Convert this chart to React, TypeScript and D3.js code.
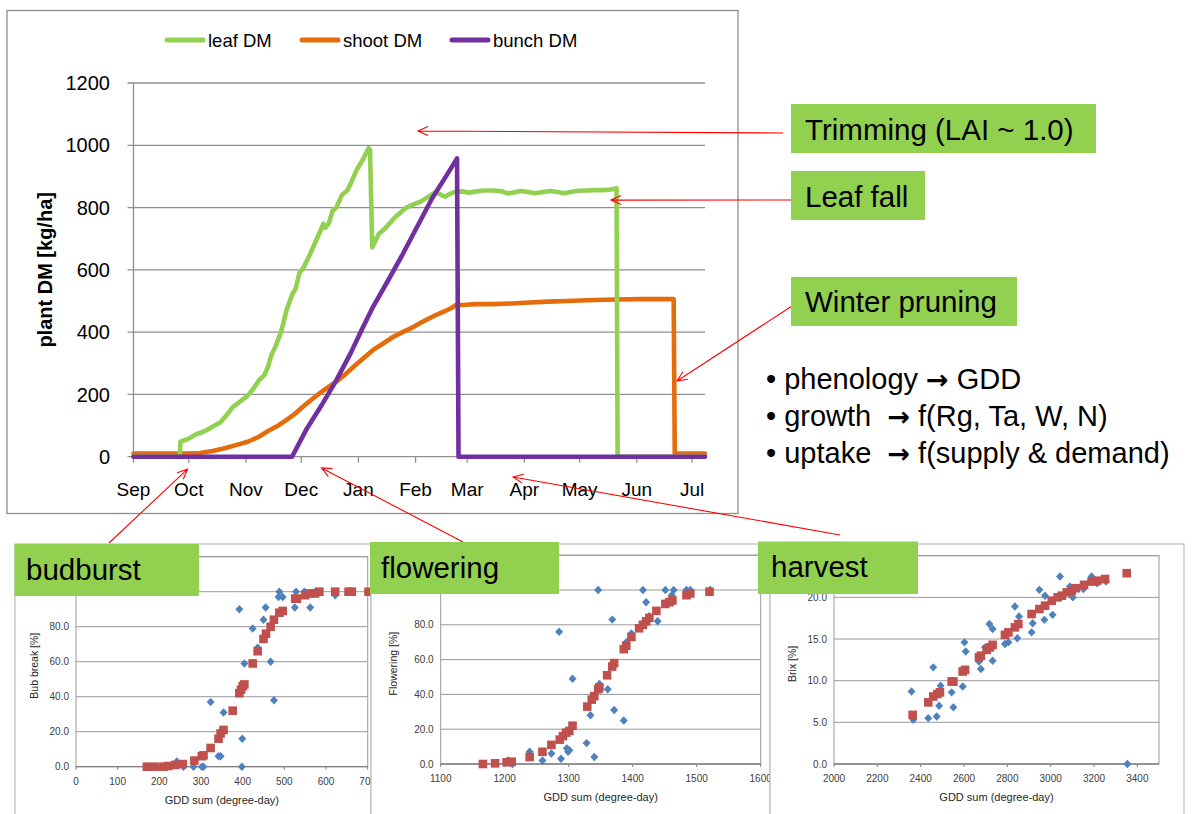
import React from "react";
import * as d3 from "d3";

// ---------- main panel: simulated dry matter (kg/ha) ----------
// x values are day offsets from 1 September 2000
const SEASON_START = Date.UTC(2000, 8, 1);
const SEASON_LAST_DAY = 310;
const MONTH_LABELS = ["Sep", "Oct", "Nov", "Dec", "Jan", "Feb", "Mar", "Apr", "May", "Jun", "Jul"];
const DM_TICKS = [0, 200, 400, 600, 800, 1000, 1200];

const leafDM: [number, number][] = [
  [0, 0], [25, 0], [25.5, 48], [30, 58], [34, 72], [38, 80], [41, 90], [44, 100], [47, 110],
  [50, 130], [54, 160], [58, 178], [62, 196], [65, 218], [68, 245], [71, 262], [73, 290],
  [75, 330], [77, 353], [80, 400], [83, 470], [86, 520], [88, 540], [90, 590], [92, 605],
  [95, 640], [98, 680], [101, 720], [103, 748], [104, 735], [106, 750], [108, 790], [110, 800],
  [113, 840], [116, 855], [118, 880], [121, 920], [124, 950], [127.5, 990], [128.3, 985],
  [129.5, 672], [131, 690], [133, 715], [136, 730], [139, 750], [142, 770], [145, 785],
  [148, 800], [152, 810], [156, 820], [160, 835], [164, 850], [167, 840], [169, 835],
  [171, 842], [174, 850], [178, 852], [182, 848], [186, 852], [190, 855], [195, 855],
  [200, 852], [203, 845], [206, 848], [210, 853], [214, 850], [218, 846], [222, 850],
  [226, 853], [230, 850], [234, 846], [237, 850], [241, 854], [246, 855], [250, 856],
  [255, 856], [259, 858], [262, 862], [262.6, 0], [310, 0],
];

const shootDM: [number, number][] = [
  [0, 10], [29, 10], [36, 12], [43, 18], [50, 28], [56, 38], [62, 48], [68, 64], [74, 86],
  [79, 102], [83, 118], [87, 135], [92, 161], [97, 185], [101, 204], [106, 225], [110, 241],
  [115, 265], [120, 292], [125, 318], [130, 343], [135, 362], [141, 385], [146, 400],
  [152, 417], [158, 437], [163, 452], [168, 465], [172, 476], [175, 487], [180, 488],
  [186, 490], [195, 490], [205, 492], [215, 495], [225, 498], [235, 500], [250, 503],
  [262, 505], [275, 506], [293, 506], [293.6, 10], [310, 10],
];

const bunchDM: [number, number][] = [
  [0, 0], [86, 0], [94, 90], [102, 165], [110, 245], [118, 335], [124, 410], [130, 482],
  [138, 565], [146, 650], [154, 740], [162, 830], [170, 905], [175.5, 958], [176.3, 0], [310, 0],
];

const SERIES_NAMES = ["leaf DM", "shoot DM", "bunch DM"];
const SERIES_COLORS = ["#92D050", "#E46C0A", "#7030A0"];

// ---------- phenology panels: observed (blue) vs simulated (red) ----------
const budburstObs: [number, number][] = [
  [242, 3], [258, 0], [282, 0], [302, 0], [306, 0], [323, 37], [342, 6], [347, 6], [354, 31],
  [392, 90], [398, 0], [399, 16], [404, 59], [424, 79], [436, 68], [450, 84], [455, 91],
  [467, 60], [475, 38], [488, 100], [486, 97], [496, 97], [525, 91], [528, 100], [548, 100],
  [562, 91], [574, 100], [622, 98],
];
const budburstSim: [number, number][] = [
  [170, 0], [190, 0], [210, 0], [222, 0.4], [238, 1], [256, 1.5], [284, 3.5], [302, 6],
  [306, 6.5], [323, 10.7], [342, 16], [347, 19], [354, 21], [376, 32], [392, 42], [396, 44],
  [400, 46], [404, 47], [424, 59], [436, 66], [450, 73], [456, 76], [467, 80], [475, 84],
  [488, 88], [496, 89], [526, 96], [530, 96], [550, 98], [562, 99], [574, 99], [584, 100],
  [622, 100], [654, 100], [662, 100], [702, 100],
];

const floweringObs: [number, number][] = [
  [1205, 2], [1212, 0], [1239, 7], [1259, 2], [1273, 6], [1285, 76], [1288, 3], [1297, 9],
  [1299, 7], [1301, 8], [1306, 49], [1328, 12], [1334, 28], [1340, 4], [1346, 100], [1348, 46],
  [1361, 43], [1368, 83], [1371, 31], [1386, 25], [1390, 70], [1398, 75], [1416, 100],
  [1421, 93], [1426, 85], [1439, 82], [1451, 100], [1461, 97], [1464, 100], [1462, 93],
  [1484, 100], [1490, 100], [1521, 100],
];
const floweringSim: [number, number][] = [
  [1166, 0], [1185, 0.4], [1203, 1], [1211, 1.3], [1239, 4], [1259, 7], [1273, 11], [1286, 14],
  [1291, 16], [1296, 18], [1301, 19], [1306, 22], [1329, 33], [1336, 37], [1340, 39],
  [1346, 43], [1348, 44], [1360, 51], [1368, 56], [1371, 58], [1386, 66], [1390, 68],
  [1398, 73], [1410, 78], [1416, 80], [1421, 82], [1426, 84], [1437, 88], [1451, 92],
  [1457, 93], [1462, 94], [1484, 97], [1490, 98], [1520, 99],
];

const harvestObs: [number, number][] = [
  [2358, 8.7], [2366, 5.3], [2435, 5.5], [2458, 11.6], [2474, 5.7], [2485, 7], [2492, 9.4],
  [2543, 8.6], [2551, 6.8], [2594, 9.3], [2602, 14.6], [2608, 13.5], [2669, 12.3], [2678, 11.4],
  [2697, 14], [2717, 16.8], [2732, 16.2], [2732, 12.4], [2789, 14.4], [2805, 14.6], [2835, 18.9],
  [2846, 15.1], [2854, 17.7], [2912, 15.8], [2917, 16.9], [2948, 20.9], [2971, 17.3],
  [2974, 20.2], [3009, 17.9], [3043, 22.5], [3089, 21.3], [3102, 20], [3151, 21], [3189, 22.5],
  [3215, 21.7], [3255, 21.9], [3354, 0],
];
const harvestSim: [number, number][] = [
  [2363, 5.9], [2435, 7.4], [2458, 8.1], [2477, 8.4], [2489, 8.6], [2543, 9.9], [2551, 9.9],
  [2594, 11.1], [2605, 11.3], [2669, 12.8], [2678, 13], [2705, 13.7], [2720, 14], [2732, 14.3],
  [2789, 15.5], [2805, 15.8], [2835, 16.4], [2851, 16.8], [2912, 18], [2948, 18.6], [2974, 19],
  [3005, 19.6], [3032, 20], [3051, 20.2], [3074, 20.6], [3097, 20.8], [3117, 21.1], [3154, 21.5],
  [3189, 21.9], [3215, 22], [3251, 22.2], [3351, 22.9],
];

const BUDBURST_X_TICKS = [0, 100, 200, 300, 400, 500, 600, 700];
const FLOWERING_X_TICKS = [1100, 1200, 1300, 1400, 1500, 1600];
const HARVEST_X_TICKS = [2000, 2200, 2400, 2600, 2800, 3000, 3200, 3400];
const PERCENT_TICKS = [0, 20, 40, 60, 80, 100, 120];
const BRIX_TICKS = [0, 5, 10, 15, 20, 25];

const BULLETS: [string, string][] = [
  ["\u2022 phenology ", " GDD"],
  ["\u2022 growth  ", " f(Rg, Ta, W, N)"],
  ["\u2022 uptake  ", " f(supply & demand)"],
];

const ARIAL = "'Liberation Sans', Arial, sans-serif";
const GREEN_BOX = "#92D050";
const GRID = "#8f8f8f";
const RED = "#FF0000";

const dayToDate = (d: number) => new Date(SEASON_START + d * 864e5);

function arrowPath(x1: number, y1: number, x2: number, y2: number, len = 11, spread = 0.42) {
  const a = Math.atan2(y2 - y1, x2 - x1);
  const ax = x2 - len * Math.cos(a - spread);
  const ay = y2 - len * Math.sin(a - spread);
  const bx = x2 - len * Math.cos(a + spread);
  const by = y2 - len * Math.sin(a + spread);
  return `M${x1},${y1}L${x2},${y2}M${ax},${ay}L${x2},${y2}L${bx},${by}`;
}

type PanelProps = {
  id: string;
  frame: [number, number, number, number];
  plot: [number, number, number, number];
  xDomain: [number, number];
  yDomain: [number, number];
  xTicks: number[];
  yTicks: number[];
  yLabelMax: number;
  yLabel: string;
  yLabelX: number;
  obs: [number, number][];
  sim: [number, number][];
};

const DIAMOND = "M0,-4.2L4,0L0,4.2L-4,0Z";

function PhenologyPanel(p: PanelProps) {
  const [fx0, fy0, fx1, fy1] = p.frame;
  const [px0, py0, px1, py1] = p.plot;
  const x = d3.scaleLinear().domain(p.xDomain).range([px0, px1]);
  const y = d3.scaleLinear().domain(p.yDomain).range([py1, py0]);
  return (
    <g>
      <defs>
        <clipPath id={p.id}>
          <rect x={fx0} y={fy0} width={fx1 - fx0} height={fy1 - fy0} />
        </clipPath>
      </defs>
      <rect x={fx0} y={fy0} width={fx1 - fx0} height={fy1 - fy0} fill="#fff" stroke="#bdbdbd" strokeWidth={1.2} />
      <g clipPath={`url(#${p.id})`}>
        {p.yTicks.slice(1).map((t) => (
          <line key={t} x1={px0} x2={px1} y1={y(t)} y2={y(t)} stroke="#9a9a9a" strokeWidth={1} />
        ))}
        <rect x={px0} y={py0} width={px1 - px0} height={py1 - py0} fill="none" stroke="#9a9a9a" strokeWidth={1} />
        <line x1={px0} x2={px1} y1={py1} y2={py1} stroke="#808080" strokeWidth={1.3} />
        {p.xTicks.map((t) => (
          <g key={t}>
            <line x1={x(t)} x2={x(t)} y1={py1} y2={py1 + 3} stroke="#808080" />
            <text x={x(t)} y={py1 + 18} textAnchor="middle" fontFamily={ARIAL} fontSize={10} fill="#404040">
              {t}
            </text>
          </g>
        ))}
        {p.yTicks
          .filter((t) => t <= p.yLabelMax)
          .map((t) => (
            <text key={t} x={px0 - 7} y={y(t)} dy="0.35em" textAnchor="end" fontFamily={ARIAL} fontSize={10} fill="#404040">
              {t.toFixed(1)}
            </text>
          ))}
        {p.obs.map(([gx, v], i) => (
          <path key={"o" + i} d={DIAMOND} transform={`translate(${x(gx)},${y(v)})`} fill="#4F81BD" />
        ))}
        {p.sim.map(([gx, v], i) => (
          <rect key={"s" + i} x={x(gx) - 4.3} y={y(v) - 4.3} width={8.6} height={8.6} fill="#C0504D" />
        ))}
      </g>
      <text
        transform={`translate(${p.yLabelX},${(py0 + py1) / 2 + 4}) rotate(-90)`}
        textAnchor="middle"
        fontFamily={ARIAL}
        fontSize={10.5}
        fill="#262626"
      >
        {p.yLabel}
      </text>
      <text x={(px0 + Math.min(px1, fx1)) / 2} y={py1 + 37} textAnchor="middle" fontFamily={ARIAL} fontSize={11} fill="#262626">
        GDD sum (degree-day)
      </text>
    </g>
  );
}

export default function App() {
  const plotX0 = 133.5;
  const plotX1 = 705;
  const plotTop = 83;
  const plotBottom = 456.7;

  const x = d3.scaleUtc().domain([dayToDate(0), dayToDate(SEASON_LAST_DAY)]).range([plotX0, plotX1]);
  const y = d3.scaleLinear().domain([0, 1200]).range([plotBottom, plotTop]);
  const line = d3
    .line<[number, number]>()
    .x((d) => x(dayToDate(d[0])))
    .y((d) => y(d[1]));

  const monthTicks = MONTH_LABELS.map((_, i) => d3.utcMonth.offset(dayToDate(0), i));
  const series = [shootDM, leafDM, bunchDM];
  const seriesColor = [SERIES_COLORS[1], SERIES_COLORS[0], SERIES_COLORS[2]];

  // annotation arrows: tail (label box side) -> head (event on the season axis)
  const arrows = [
    { tail: [783, 133], head: [x(dayToDate(154.3)), y(1046)] },
    { tail: [791, 200], head: [x(dayToDate(259)), y(824)] },
    { tail: [792, 306], head: [x(dayToDate(294.8)), y(243)] },
    { tail: [109, 543], head: [x(dayToDate(29.3)), y(-40)] },
    { tail: [463, 542], head: [x(dayToDate(102)), y(-36)] },
    { tail: [840, 535], head: [x(dayToDate(205.9)), y(-65)] },
  ];

  const legendX = [167, 302, 452];

  return (
    <svg width={1192} height={814} style={{ position: "absolute", left: 0, top: 0, background: "#fff" }}>
      {/* main dry-matter chart */}
      <rect x={7} y={10.5} width={731} height={503} fill="#fff" stroke="#8c8c8c" strokeWidth={1.3} />
      {DM_TICKS.map((t) => (
        <g key={t}>
          <line x1={plotX0 - 6} x2={plotX1} y1={y(t)} y2={y(t)} stroke={GRID} strokeWidth={1.3} />
          <text x={110} y={y(t)} dy="0.36em" textAnchor="end" fontFamily={ARIAL} fontSize={20} fill="#000">
            {t}
          </text>
        </g>
      ))}
      <line x1={plotX0} x2={plotX0} y1={plotTop} y2={plotBottom} stroke={GRID} strokeWidth={1.3} />
      {monthTicks.map((d, i) => (
        <g key={i}>
          <line x1={x(d)} x2={x(d)} y1={plotBottom} y2={plotBottom + 6} stroke={GRID} strokeWidth={1.3} />
          <text x={x(d)} y={plotBottom + 39} textAnchor="middle" fontFamily={ARIAL} fontSize={19} fill="#000">
            {MONTH_LABELS[i]}
          </text>
        </g>
      ))}
      <text
        transform={`translate(45,${(plotTop + plotBottom) / 2}) rotate(-90)`}
        dy="0.35em"
        textAnchor="middle"
        fontFamily={ARIAL}
        fontWeight="bold"
        fontSize={20}
        fill="#000"
      >
        plant DM [kg/ha]
      </text>
      {series.map((s, i) => (
        <path
          key={i}
          d={line(s) as string}
          fill="none"
          stroke={seriesColor[i]}
          strokeWidth={4.6}
          strokeLinejoin="round"
          strokeLinecap="round"
        />
      ))}
      {SERIES_NAMES.map((name, i) => (
        <g key={name}>
          <line x1={legendX[i]} x2={legendX[i] + 36} y1={40} y2={40} stroke={SERIES_COLORS[i]} strokeWidth={5} strokeLinecap="round" />
          <text x={legendX[i] + 41} y={46.5} fontFamily={ARIAL} fontSize={18.5} fill="#000">
            {name}
          </text>
        </g>
      ))}

      {/* phenology panels */}
      <PhenologyPanel
        id="clip-budburst"
        frame={[15, 544, 371, 830]}
        plot={[76, 556.7, 367.7, 766.7]}
        xDomain={[0, 700]}
        yDomain={[0, 120]}
        xTicks={BUDBURST_X_TICKS}
        yTicks={PERCENT_TICKS}
        yLabelMax={80}
        yLabel="Bub break [%]"
        yLabelX={38}
        obs={budburstObs}
        sim={budburstSim}
      />
      <PhenologyPanel
        id="clip-flowering"
        frame={[371, 544, 770, 830]}
        plot={[440.7, 555.2, 760.7, 764]}
        xDomain={[1100, 1600]}
        yDomain={[0, 120]}
        xTicks={FLOWERING_X_TICKS}
        yTicks={PERCENT_TICKS}
        yLabelMax={80}
        yLabel="Flowering [%]"
        yLabelX={397}
        obs={floweringObs}
        sim={floweringSim}
      />
      <PhenologyPanel
        id="clip-harvest"
        frame={[770, 544, 1184, 830]}
        plot={[834, 555.7, 1159, 764]}
        xDomain={[2000, 3500]}
        yDomain={[0, 25]}
        xTicks={HARVEST_X_TICKS}
        yTicks={BRIX_TICKS}
        yLabelMax={20}
        yLabel="Brix [%]"
        yLabelX={796}
        obs={harvestObs}
        sim={harvestSim}
      />

      {/* annotation arrows */}
      {arrows.map((a, i) => (
        <path key={i} d={arrowPath(a.tail[0], a.tail[1], a.head[0], a.head[1])} fill="none" stroke={RED} strokeWidth={1.1} />
      ))}

      {/* event labels */}
      {[
        { x: 791, y: 104, w: 305, h: 49, text: "Trimming (LAI ~ 1.0)", tx: 805, ty: 140 },
        { x: 791, y: 171, w: 134, h: 49, text: "Leaf fall", tx: 805, ty: 207 },
        { x: 791, y: 277, w: 226, h: 49, text: "Winter pruning", tx: 805, ty: 312 },
        { x: 14.5, y: 544, w: 184.5, h: 52, text: "budburst", tx: 26, ty: 580 },
        { x: 370, y: 542, w: 189, h: 52, text: "flowering", tx: 381, ty: 578 },
        { x: 758, y: 541.5, w: 160, h: 52.5, text: "harvest", tx: 771, ty: 577 },
      ].map((b) => (
        <g key={b.text}>
          <rect x={b.x} y={b.y} width={b.w} height={b.h} fill={GREEN_BOX} />
          <text x={b.tx} y={b.ty} fontFamily={ARIAL} fontSize={29.5} fill="#000">
            {b.text}
          </text>
        </g>
      ))}

      {/* model notes */}
      {BULLETS.map(([head, tail], i) => (
        <text key={i} x={766} y={389 + i * 37} fontFamily={ARIAL} fontSize={29} fill="#000" style={{ whiteSpace: "pre" }}>
          {head}
          <tspan fontFamily="'DejaVu Sans', sans-serif" fontWeight="bold" fontSize={27}>
            {"\u2192"}
          </tspan>
          {tail}
        </text>
      ))}
    </svg>
  );
}
